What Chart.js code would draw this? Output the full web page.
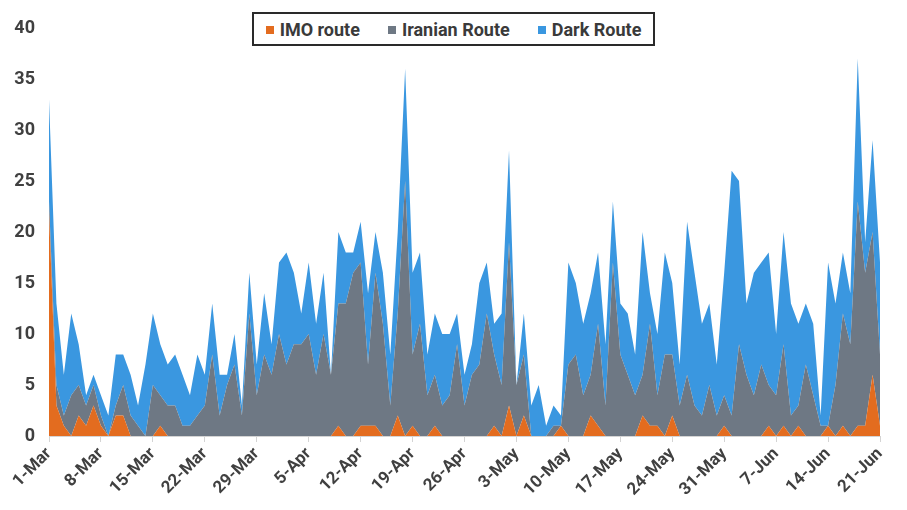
<!DOCTYPE html>
<html lang="en">
<head>
<meta charset="UTF-8">
<title>Routes</title>
<script src="https://cdn.jsdelivr.net/npm/chart.js@4.4.1/dist/chart.umd.min.js"></script>
<style>
    html, body {
        margin: 0;
        padding: 0;
        background: #ffffff;
    }

    body {
        position: relative;
        width: 907px;
        height: 510px;
        overflow: hidden;
        font-family: Roboto, 'Noto Sans', sans-serif;
    }

    #chart-container {
        position: absolute;
        left: 0;
        top: 0;
        width: 907px;
        height: 510px;
    }

    .legend {
        position: absolute;
        left: 252px;
        top: 12px;
        width: 399px;
        height: 30px;
        border: 2px solid #2a2a2a;
        background: #ffffff;
        display: flex;
        align-items: center;
        justify-content: center;
        gap: 28px;
        font-size: 18px;
        font-weight: 700;
        color: #3a3a3a;
    }

    .legend .box {
        display: inline-block;
        width: 8px;
        height: 8px;
        margin-right: 6px;
        vertical-align: middle;
        position: relative;
        top: -1px;
    }
</style>
</head>
<body>
<div id="chart-container">
    <canvas id="routeChart"></canvas>
</div>
<div class="legend" id="legend"></div>

<script>
    // daily counts, 1-Mar .. 21-Jun
    const imoRoute = [
        22, 3, 1, 0, 2, 1, 3, 1, 0, 2, 2, 0, 0, 0,
        0, 1, 0, 0, 0, 0, 0, 0, 0, 0, 0, 0, 0, 0,
        0, 0, 0, 0, 0, 0, 0, 0, 0, 0, 0, 1, 0, 0,
        1, 1, 1, 0, 0, 2, 0, 1, 0, 0, 1, 0, 0, 0,
        0, 0, 0, 0, 1, 0, 3, 0, 2, 0, 0, 0, 0, 1,
        0, 0, 0, 2, 1, 0, 0, 0, 0, 0, 2, 1, 1, 0,
        2, 0, 0, 0, 0, 0, 0, 1, 0, 0, 0, 0, 0, 1,
        0, 1, 0, 1, 0, 0, 0, 1, 0, 1, 0, 1, 1, 6,
        1
    ];
    const iranianRoute = [
        1, 2, 1, 4, 3, 2, 2, 1, 0, 1, 3, 2, 1, 0,
        5, 3, 3, 3, 1, 1, 2, 3, 8, 2, 5, 7, 2, 12,
        4, 8, 6, 10, 7, 9, 9, 10, 6, 10, 6, 12, 13, 16,
        16, 6, 15, 11, 3, 10, 25, 7, 11, 4, 5, 3, 4, 9,
        3, 6, 7, 12, 7, 5, 16, 5, 6, 0, 0, 0, 1, 0,
        7, 8, 4, 4, 10, 3, 17, 8, 6, 4, 4, 10, 3, 8,
        6, 3, 6, 3, 2, 5, 2, 3, 2, 9, 6, 4, 7, 4,
        4, 8, 2, 2, 7, 4, 1, 0, 5, 11, 9, 22, 15, 14,
        7
    ];
    const darkRoute = [
        10, 8, 4, 8, 4, 1, 1, 2, 2, 5, 3, 4, 2, 7,
        7, 5, 4, 5, 5, 3, 6, 3, 5, 4, 1, 3, 1, 4,
        3, 6, 3, 7, 11, 7, 3, 7, 5, 6, 0, 7, 5, 2,
        4, 7, 4, 5, 5, 8, 11, 8, 7, 4, 6, 7, 6, 3,
        3, 3, 8, 5, 3, 7, 9, 0, 4, 3, 5, 1, 2, 1,
        10, 7, 7, 8, 7, 6, 6, 5, 6, 4, 14, 3, 6, 10,
        7, 4, 15, 13, 9, 8, 5, 12, 24, 16, 7, 12, 10, 13,
        6, 11, 11, 8, 6, 7, 1, 16, 8, 6, 5, 14, 3, 9,
        9
    ];

    const seriesNames = ['IMO route', 'Iranian Route', 'Dark Route'];
    const seriesColors = ['#E36C1F', '#6E7884', '#3A97E0'];
    const yTicks = [0, 5, 10, 15, 20, 25, 30, 35, 40];

    // one category per day starting 1-Mar
    const monthNames = ['Jan', 'Feb', 'Mar', 'Apr', 'May', 'Jun', 'Jul', 'Aug', 'Sep', 'Oct', 'Nov', 'Dec'];
    const days = [];
    for (let i = 0; i < imoRoute.length; i++) {
        const d = new Date(2023, 2, 1 + i);
        days.push(d.getDate() + '-' + monthNames[d.getMonth()]);
    }

    // legend
    const legend = document.getElementById('legend');
    seriesNames.forEach((name, i) => {
        const item = document.createElement('span');
        item.innerHTML = '<span class="box" style="background:' + seriesColors[i] + '"></span>' + name;
        legend.appendChild(item);
    });

    const values = [imoRoute, iranianRoute, darkRoute];
    const datasets = values.map((data, i) => ({
        label: seriesNames[i],
        data: data,
        backgroundColor: seriesColors[i],
        borderColor: seriesColors[i],
        borderWidth: 0,
        pointRadius: 0,
        tension: 0,
        fill: i === 0 ? 'origin' : '-1'
    }));

    const tickFont = { family: 'Roboto', weight: 'bold' };

    new Chart(document.getElementById('routeChart'), {
        type: 'line',
        data: { labels: days, datasets: datasets },
        options: {
            responsive: true,
            maintainAspectRatio: false,
            animation: false,
            layout: { padding: { left: 0, right: 27, top: 28, bottom: 0 } },
            plugins: {
                legend: { display: false },
                tooltip: { enabled: false }
            },
            scales: {
                x: {
                    grid: {
                        drawOnChartArea: false,
                        drawTicks: true,
                        tickLength: 6,
                        color: ctx => ctx.index % 7 === 0 ? '#d4d4d4' : 'rgba(0,0,0,0)'
                    },
                    border: { display: true, color: '#d4d4d4', width: 1 },
                    ticks: {
                        autoSkip: false,
                        minRotation: 45,
                        maxRotation: 45,
                        padding: 2,
                        color: '#404040',
                        font: { ...tickFont, size: 17 },
                        callback: (val, i) => i % 7 === 0 ? days[i] : ''
                    },
                    afterFit: scale => { scale.height = 74; }
                },
                y: {
                    stacked: true,
                    min: 0,
                    max: 40,
                    grid: { display: false, drawTicks: false },
                    border: { display: false },
                    afterBuildTicks: scale => {
                        scale.ticks = yTicks.map(v => ({ value: v }));
                    },
                    ticks: {
                        padding: 14,
                        color: '#404040',
                        font: { ...tickFont, size: 18 }
                    },
                    afterFit: scale => { scale.width = 49; }
                }
            }
        }
    });
</script>
</body>
</html>
